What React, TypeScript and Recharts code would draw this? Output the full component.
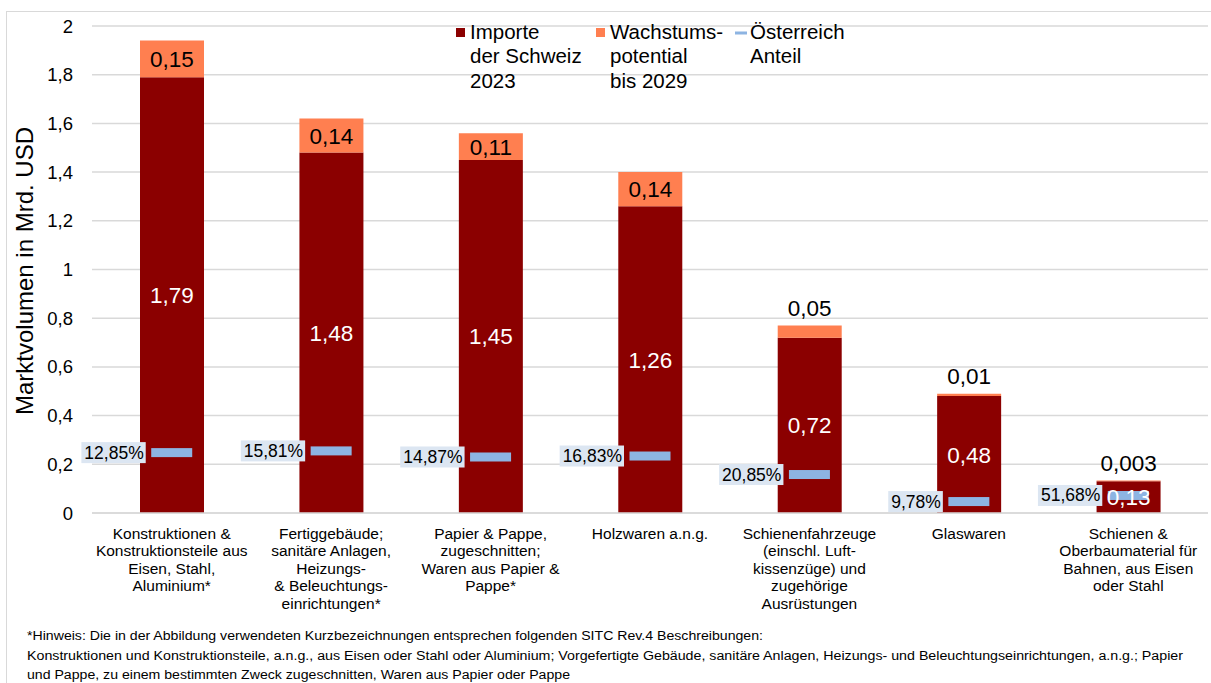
import React from "react";
import {
  ComposedChart,
  Bar,
  Scatter,
  XAxis,
  YAxis,
  CartesianGrid,
  LabelList,
  Legend,
  Label,
} from "recharts";

const categories = [
  "Konstruktionen &\nKonstruktionsteile aus\nEisen, Stahl,\nAluminium*",
  "Fertiggebäude;\nsanitäre Anlagen,\nHeizungs-\n& Beleuchtungs-\neinrichtungen*",
  "Papier & Pappe,\nzugeschnitten;\nWaren aus Papier &\nPappe*",
  "Holzwaren a.n.g.",
  "Schienenfahrzeuge\n(einschl. Luft-\nkissenzüge) und\nzugehörige\nAusrüstungen",
  "Glaswaren",
  "Schienen &\nOberbaumaterial für\nBahnen, aus Eisen\noder Stahl",
];
const imports2023 = [1.79, 1.48, 1.45, 1.26, 0.72, 0.48, 0.13];
const growth2029 = [0.15, 0.14, 0.11, 0.14, 0.05, 0.01, 0.003];
const austriaShare = [12.85, 15.81, 14.87, 16.83, 20.85, 9.78, 51.68];
const austriaMarker = [0.248, 0.255, 0.23, 0.234, 0.158, 0.047, 0.072];
const yTicks = [0, 0.2, 0.4, 0.6, 0.8, 1, 1.2, 1.4, 1.6, 1.8, 2];
const legendItems = [
  { key: "imports", lines: ["Importe", "der Schweiz", "2023"] },
  { key: "growth", lines: ["Wachstums-", "potential", "bis 2029"] },
  { key: "austria", lines: ["Österreich", "Anteil"] },
];
const footnoteLines = [
  "*Hinweis: Die in der Abbildung verwendeten Kurzbezeichnungen entsprechen folgenden SITC Rev.4 Beschreibungen:",
  "Konstruktionen und Konstruktionsteile, a.n.g., aus Eisen oder Stahl oder Aluminium; Vorgefertigte Gebäude, sanitäre Anlagen, Heizungs- und Beleuchtungseinrichtungen, a.n.g.; Papier",
  "und Pappe, zu einem bestimmten Zweck zugeschnitten, Waren aus Papier oder Pappe",
];

const FONT = "'Liberation Sans', Arial, Helvetica, sans-serif";
const DARK_RED = "#8B0000";
const ORANGE = "#FF7F50";
const BLUE = "#8DB4E2";
const LABEL_BG = "#DCE6F2";
const GRID = "#D9D9D9";

const data = categories.map((name, i) => ({
  name,
  imports: imports2023[i],
  growth: growth2029[i],
  share: austriaShare[i],
  marker: austriaMarker[i],
}));

const fmt = (v: number) => String(v).replace(".", ",");

const charW = (c: string, fs: number) => {
  if (c === ",") return fs * 0.278;
  if (c === "%") return fs * 0.889;
  return fs * 0.556;
};

const CategoryTick = (props: any) => {
  const { x, y, payload } = props;
  const lines = String(payload.value).split("\n");
  return (
    <text x={x} y={y} textAnchor="middle" fontFamily={FONT} fontSize={15.5} fill="#000">
      {lines.map((l: string, i: number) => (
        <tspan key={i} x={x} dy={17.5}>
          {l}
        </tspan>
      ))}
    </text>
  );
};

const ImportsLabel = (props: any) => {
  const { x, y, width, height, value } = props;
  return (
    <text
      x={x + width / 2}
      y={y + height / 2 + 8}
      textAnchor="middle"
      fontFamily={FONT}
      fontSize={22.5}
      fill="#fff"
    >
      {fmt(value)}
    </text>
  );
};

const GrowthLabel = (props: any) => {
  const { x, y, width, height, value } = props;
  const inside = height > 20;
  return (
    <text
      x={x + width / 2}
      y={inside ? y + height / 2 + 8 : y - 10}
      textAnchor="middle"
      fontFamily={FONT}
      fontSize={22.5}
      fill="#000"
    >
      {fmt(value)}
    </text>
  );
};

const AustriaShape = (props: any) => {
  const { cx, cy, payload } = props;
  const txt = fmt(payload.share) + "%";
  const fs = 17.5;
  let w = 0;
  for (const c of txt) w += charW(c, fs);
  const right = cx - 26;
  return (
    <g>
      <rect x={right - w - 5} y={cy - 10.5} width={w + 5} height={21} fill={LABEL_BG} />
      <text x={right - 2} y={cy + 6} textAnchor="end" fontFamily={FONT} fontSize={fs} fill="#000">
        {txt}
      </text>
      <rect x={cx - 20.5} y={cy - 4.5} width={41} height={9} fill={BLUE} />
    </g>
  );
};

const LegendContent = () => {
  const xs = [0, 140, 280];
  return (
    <svg width={440} height={90} style={{ display: "block" }}>
      {legendItems.map((it, i) => {
        const x0 = xs[i];
        return (
          <g key={it.key}>
            {it.key === "austria" ? (
              <rect x={x0 + 15} y={21.5} width={12} height={3} fill={BLUE} />
            ) : (
              <rect
                x={x0 + 16}
                y={18}
                width={9}
                height={9}
                fill={it.key === "imports" ? DARK_RED : ORANGE}
              />
            )}
            <text fontFamily={FONT} fontSize={20.5} fill="#000">
              {it.lines.map((l, j) => (
                <tspan key={j} x={x0 + 30} y={29 + j * 24.3}>
                  {l}
                </tspan>
              ))}
            </text>
          </g>
        );
      })}
    </svg>
  );
};

const YTitle = () => {
  const cx = 24;
  const cy = 271;
  return (
    <text
      x={cx}
      y={cy}
      transform={`rotate(-90 ${cx} ${cy})`}
      textAnchor="middle"
      dominantBaseline="central"
      fontFamily={FONT}
      fontSize={24}
      fill="#000"
    >
      Marktvolumen in Mrd. USD
    </text>
  );
};

export default function App() {
  return (
    <div
      style={{
        position: "absolute",
        left: 0,
        top: 0,
        width: 1211,
        height: 683,
        background: "#fff",
        overflow: "hidden",
      }}
    >
      <div
        style={{
          position: "absolute",
          left: 6,
          top: 11,
          width: 1215,
          height: 690,
          border: `1.5px solid ${GRID}`,
          boxSizing: "border-box",
        }}
      />
      <div style={{ position: "absolute", left: 0, top: 0 }}>
        <ComposedChart
          width={1211}
          height={620}
          data={data}
          margin={{ top: 26, right: 3, left: 0, bottom: 0 }}
        >
          <CartesianGrid vertical={false} stroke={GRID} strokeWidth={1.5} />
          <XAxis
            dataKey="name"
            interval={0}
            height={107}
            tickLine={false}
            axisLine={{ stroke: GRID, strokeWidth: 1.5 }}
            tick={<CategoryTick />}
          />
          <YAxis
            width={92}
            domain={[0, 2]}
            ticks={yTicks}
            tickLine={false}
            axisLine={false}
            tickSize={0}
            tickMargin={19}
            tickFormatter={(v: number) => fmt(v)}
            tick={{ fontFamily: FONT, fontSize: 18.5, fill: "#000" }}
          >
            <Label content={<YTitle />} />
          </YAxis>
          <Legend
            layout="horizontal"
            verticalAlign="middle"
            align="center"
            wrapperStyle={{ position: "absolute", left: 440, top: 10, width: 440, height: 90 }}
            content={<LegendContent />}
          />
          <Bar dataKey="imports" stackId="a" fill={DARK_RED} barSize={64} isAnimationActive={false}>
            <LabelList dataKey="imports" content={<ImportsLabel />} />
          </Bar>
          <Bar dataKey="growth" stackId="a" fill={ORANGE} barSize={64} isAnimationActive={false}>
            <LabelList dataKey="growth" content={<GrowthLabel />} />
          </Bar>
          <Scatter dataKey="marker" shape={<AustriaShape />} isAnimationActive={false} />
        </ComposedChart>
      </div>
      <svg width={1211} height={70} style={{ position: "absolute", left: 0, top: 620 }}>
        {footnoteLines.map((l, i) => {
          const lens = [736, 1156, 543];
          return (
            <text
              key={i}
              x={27}
              y={20 + i * 19.5}
              fontFamily={FONT}
              fontSize={12}
              fill="#000"
              textLength={lens[i]}
              lengthAdjust="spacingAndGlyphs"
            >
              {l}
            </text>
          );
        })}
      </svg>
    </div>
  );
}
